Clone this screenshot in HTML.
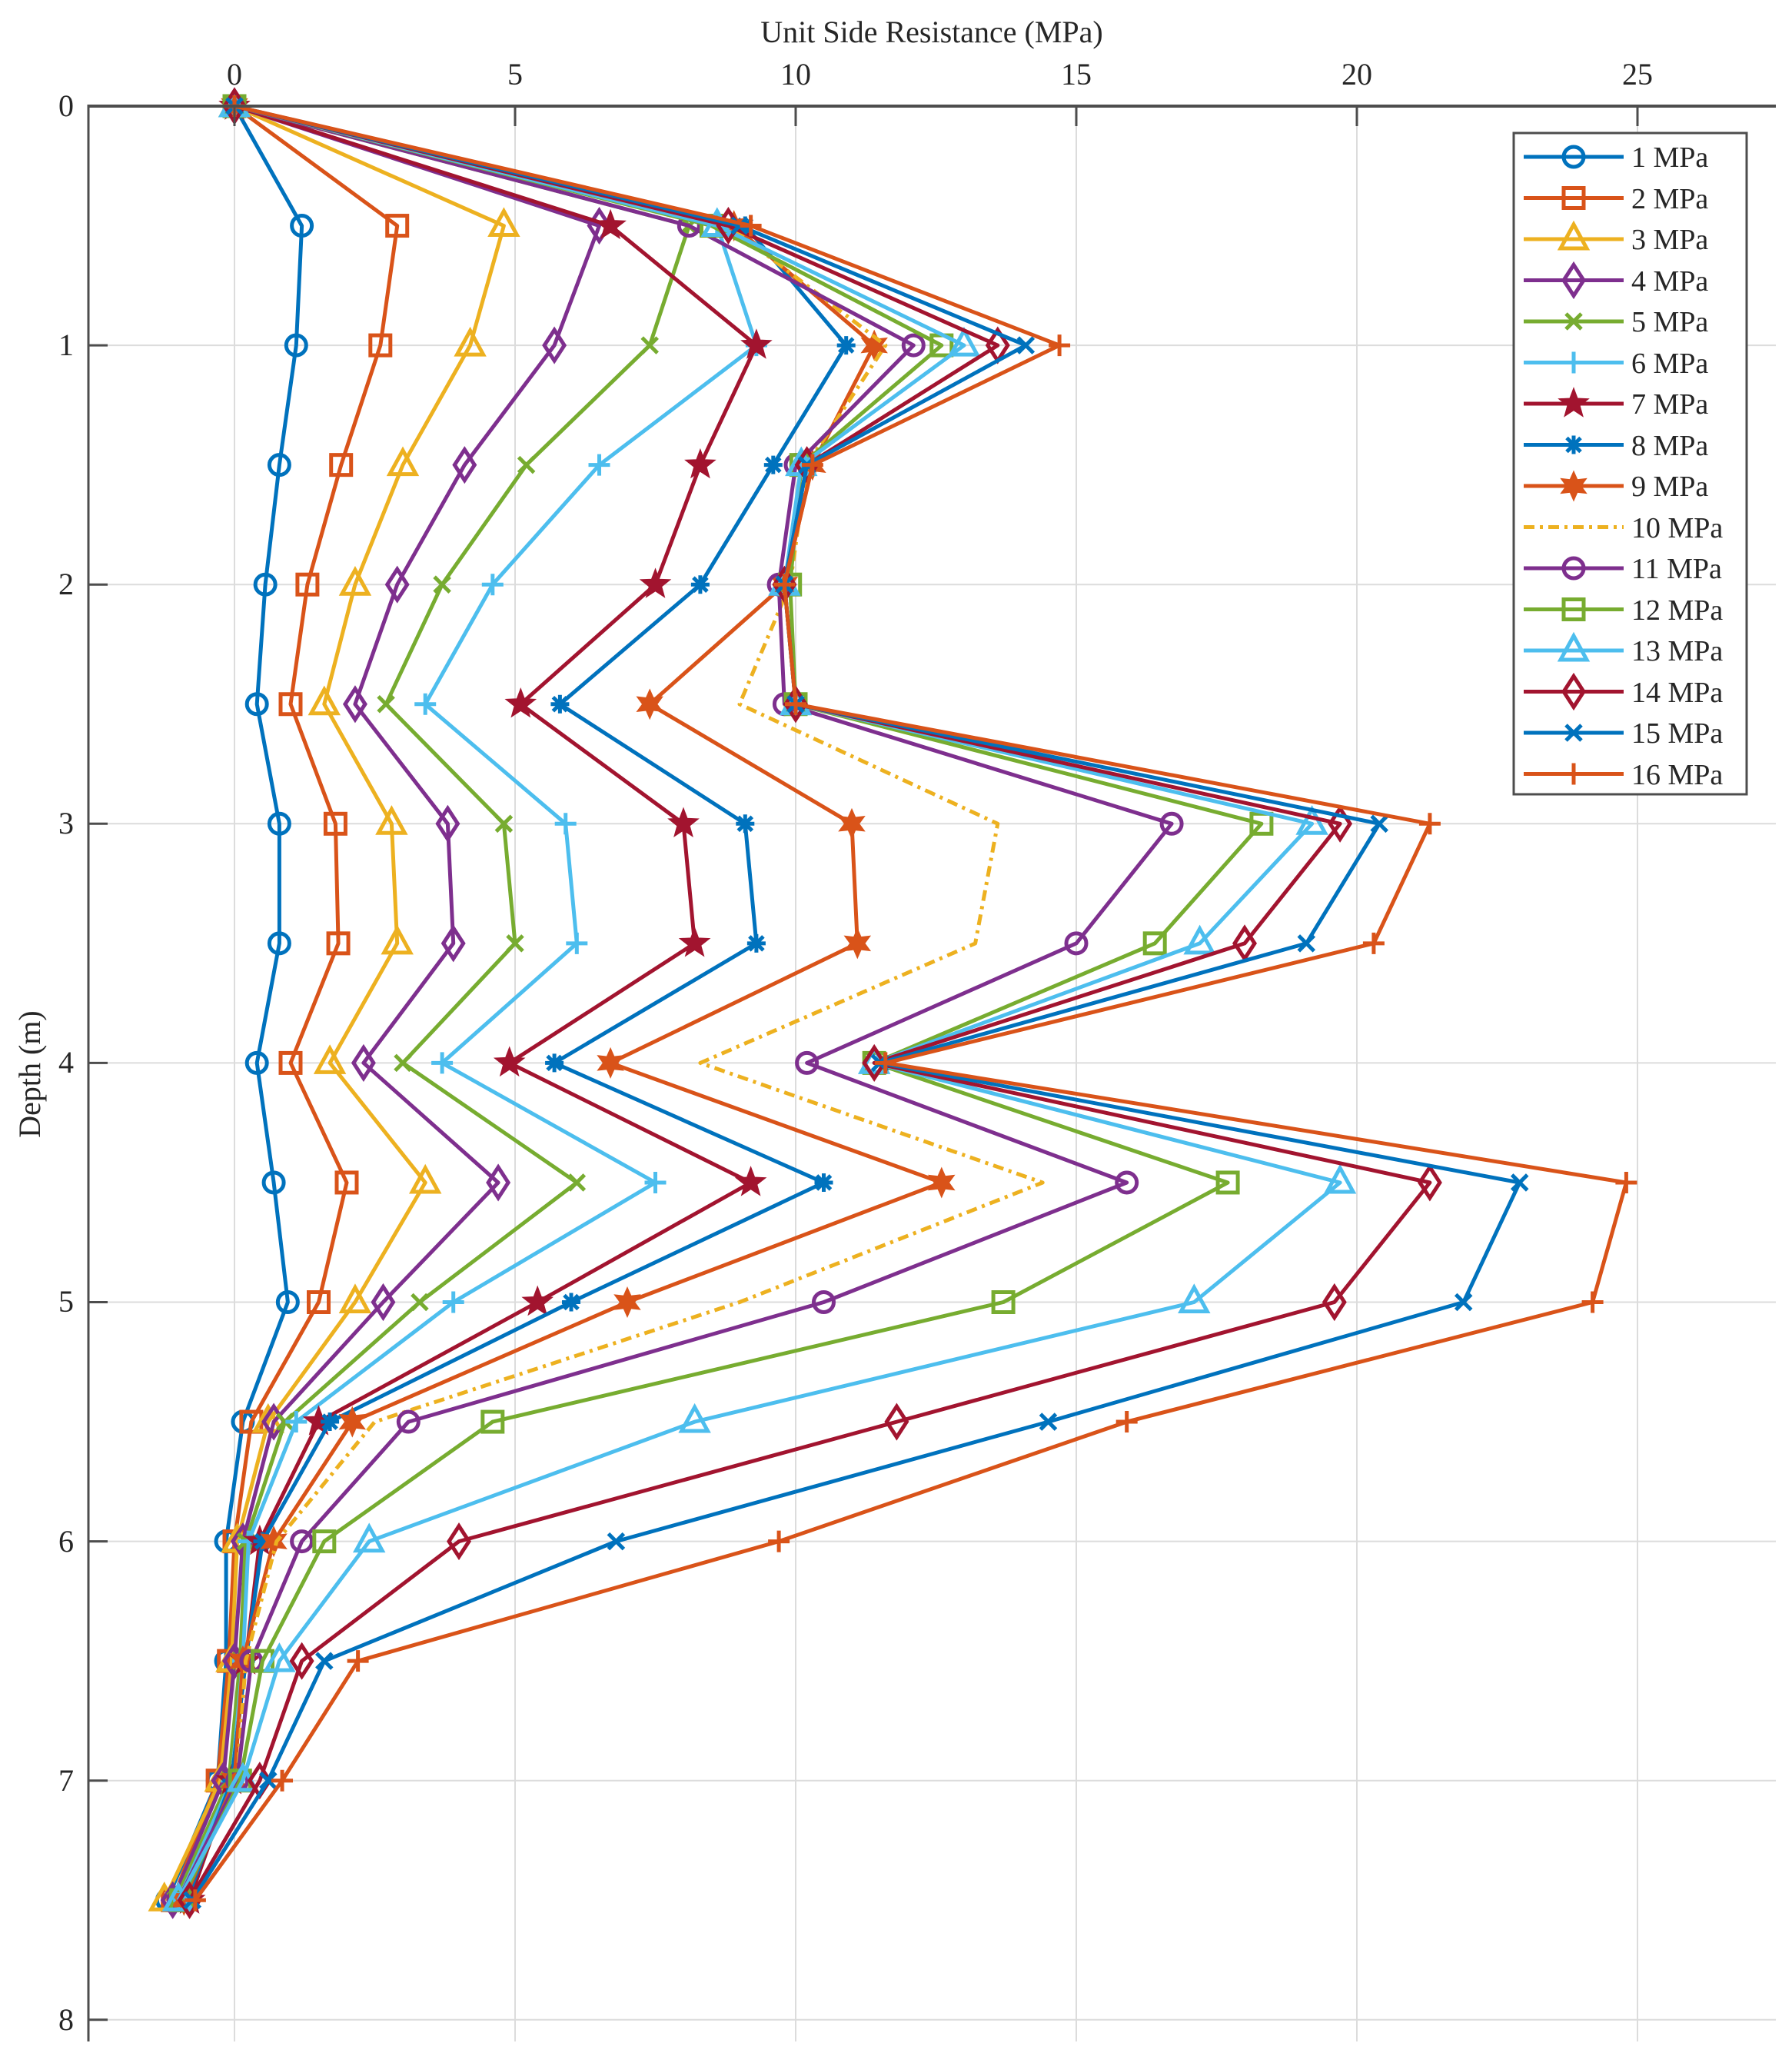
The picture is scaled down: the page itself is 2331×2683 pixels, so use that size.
<!DOCTYPE html>
<html><head><meta charset="utf-8"><style>
body{margin:0;background:#fff}
svg{display:block}
text{font-family:"Liberation Serif",serif;fill:#262626}
</style></head><body>
<svg id="s" width="2331" height="2683" viewBox="0 0 2331 2683" xmlns="http://www.w3.org/2000/svg">
<rect width="2331" height="2683" fill="#fff"/>
<g id="grid" stroke="#dcdcdc" stroke-width="2"></g>
<g id="series"></g>
<g id="axes"></g>
<text x="1212" y="55" font-size="40" text-anchor="middle" fill="#333">Unit Side Resistance (MPa)</text>
<text x="0" y="0" font-size="40" text-anchor="middle" transform="translate(52,1397) rotate(-90)" fill="#333">Depth (m)</text>
<g font-size="40" text-anchor="middle" fill="#333">
<text x="305" y="110">0</text><text x="670" y="110">5</text><text x="1035" y="110">10</text><text x="1400" y="110">15</text><text x="1765" y="110">20</text><text x="2130" y="110">25</text>
</g>
<g font-size="40" text-anchor="end" fill="#333">
<text x="96" y="151">0</text><text x="96" y="462">1</text><text x="96" y="773">2</text><text x="96" y="1084">3</text><text x="96" y="1395">4</text><text x="96" y="1706">5</text><text x="96" y="2018">6</text><text x="96" y="2329">7</text><text x="96" y="2640">8</text>
</g>
<rect x="1969" y="173" width="303" height="860" fill="#fff" stroke="#4d4d4d" stroke-width="3"/>
<g id="leg"></g>
<g font-size="38" fill="#1a1a1a">
<text x="2122" y="217">1 MPa</text><text x="2122" y="271">2 MPa</text><text x="2122" y="324">3 MPa</text><text x="2122" y="378">4 MPa</text><text x="2122" y="431">5 MPa</text><text x="2122" y="485">6 MPa</text><text x="2122" y="538">7 MPa</text><text x="2122" y="592">8 MPa</text><text x="2122" y="645">9 MPa</text><text x="2122" y="699">10 MPa</text><text x="2122" y="752">11 MPa</text><text x="2122" y="806">12 MPa</text><text x="2122" y="859">13 MPa</text><text x="2122" y="913">14 MPa</text><text x="2122" y="966">15 MPa</text><text x="2122" y="1020">16 MPa</text>
</g>
</svg>
<script>
var NS="http://www.w3.org/2000/svg";
function el(t,a,p){var e=document.createElementNS(NS,t);for(var k in a)e.setAttribute(k,a[k]);p.appendChild(e);return e;}
var X0=305,SX=73.0,Y0=138,SY=311.1,L=115,R=2310,T=138,B=2655;
function px(v){return X0+v*SX} function py(d){return Y0+d*SY}
var g=document.getElementById('grid'),ax=document.getElementById('axes');
for(var v=0;v<=25;v+=5)el('line',{x1:px(v),y1:T,x2:px(v),y2:B},g);
for(var d=0;d<=8;d++)el('line',{x1:L,y1:py(d),x2:R,y2:py(d)},g);
el('line',{x1:L,y1:T,x2:R,y2:T,stroke:'#4d4d4d','stroke-width':4},ax);
el('line',{x1:L,y1:T-2,x2:L,y2:B,stroke:'#4d4d4d','stroke-width':3},ax);
for(var v=0;v<=25;v+=5)el('line',{x1:px(v),y1:T,x2:px(v),y2:T+26,stroke:'#4d4d4d','stroke-width':3},ax);
for(var d=0;d<=8;d++)el('line',{x1:L,y1:py(d),x2:L+25,y2:py(d),stroke:'#4d4d4d','stroke-width':3},ax);
var C=['#0072BD','#D95319','#EDB120','#7E2F8E','#77AC30','#4DBEEE','#A2142F'];
var M=['o','s','^','d','x','+','p','*','h','n','o','s','^','d','x','+'];
var D=[
[0,1.2,1.1,0.8,0.55,0.4,0.8,0.8,0.4,0.7,0.95,0.15,-0.15,-0.15,-0.3,-1.2],
[0,2.9,2.6,1.9,1.3,1.0,1.8,1.85,1.0,2.0,1.5,0.3,0,-0.1,-0.3,-1.1],
[0,4.8,4.2,3.0,2.15,1.6,2.8,2.9,1.7,3.4,2.15,0.6,0.05,-0.05,-0.25,-1.25],
[0,6.5,5.7,4.1,2.9,2.15,3.8,3.9,2.3,4.7,2.65,0.7,0.15,0.0,-0.2,-1.1],
[0,8.1,7.4,5.2,3.7,2.7,4.8,5.0,3.0,6.1,3.3,0.9,0.2,0.1,-0.1,-1.05],
[0,8.6,9.3,6.5,4.6,3.4,5.9,6.1,3.7,7.5,3.9,1.1,0.25,0.15,-0.05,-1.0],
[0,6.7,9.3,8.3,7.5,5.1,8.0,8.2,4.9,9.2,5.4,1.5,0.45,0.2,-0.05,-0.8],
[0,9.1,10.9,9.6,8.3,5.8,9.1,9.3,5.7,10.5,6.0,1.7,0.5,0.2,-0.05,-0.85],
[0,8.9,11.4,10.3,9.8,7.4,11.0,11.1,6.7,12.6,7.0,2.1,0.7,0.15,0,-0.9],
[0,8.8,11.6,10.2,9.9,9.0,13.6,13.2,8.3,14.4,9.0,2.5,0.75,0.2,0.05,-0.95],
[0,8.1,12.1,10.0,9.7,9.8,16.7,15.0,10.2,15.9,10.5,3.1,1.2,0.3,0.05,-1.0],
[0,8.5,12.6,10.1,9.9,10.0,18.3,16.4,11.4,17.7,13.7,4.6,1.6,0.5,0.1,-0.95],
[0,8.6,13.0,10.1,9.8,10.0,19.2,17.2,11.4,19.7,17.1,8.2,2.4,0.8,0.15,-1.0],
[0,8.8,13.6,10.2,9.8,10.0,19.7,18.0,11.4,21.3,19.6,11.8,4.0,1.2,0.45,-0.8],
[0,9.0,14.1,10.2,9.8,10.0,20.4,19.1,11.5,22.9,21.9,14.5,6.8,1.6,0.6,-0.75],
[0,9.2,14.7,10.3,9.8,10.0,21.3,20.3,11.6,24.8,24.2,15.9,9.7,2.2,0.85,-0.7]];
function star(cx,cy,n,ro,ri){var p=[];for(var i=0;i<2*n;i++){var r=i%2?ri:ro,a=-Math.PI/2+i*Math.PI/n;p.push((cx+r*Math.cos(a)).toFixed(1)+','+(cy+r*Math.sin(a)).toFixed(1));}return p.join(' ');}
function mark(m,x,y,c,p){var s={stroke:c,'stroke-width':5,fill:'none'},r=13;
 if(m=='o'){s.cx=x;s.cy=y;s.r=r;el('circle',s,p);}
 else if(m=='s'){s.x=x-r;s.y=y-r;s.width=2*r;s.height=2*r;el('rect',s,p);}
 else if(m=='^'){s.points=x+','+(y-r-6)+' '+(x+r+4)+','+(y+r-1)+' '+(x-r-4)+','+(y+r-1);el('polygon',s,p);}
 else if(m=='d'){s.points=x+','+(y-r-7)+' '+(x+r)+','+y+' '+x+','+(y+r+7)+' '+(x-r)+','+y;el('polygon',s,p);}
 else if(m=='x'){s.d='M'+(x-10)+' '+(y-10)+'L'+(x+10)+' '+(y+10)+'M'+(x+10)+' '+(y-10)+'L'+(x-10)+' '+(y+10);el('path',s,p);}
 else if(m=='+'){s.d='M'+(x-14)+' '+y+'L'+(x+14)+' '+y+'M'+x+' '+(y-14)+'L'+x+' '+(y+14);el('path',s,p);}
 else if(m=='*'){s.d='M'+(x-12)+' '+y+'L'+(x+12)+' '+y+'M'+x+' '+(y-12)+'L'+x+' '+(y+12)+'M'+(x-9)+' '+(y-9)+'L'+(x+9)+' '+(y+9)+'M'+(x+9)+' '+(y-9)+'L'+(x-9)+' '+(y+9);el('path',s,p);}
 else if(m=='p'){s.points=star(x,y,5,19,8);s.fill=c;s['stroke-width']=2;el('polygon',s,p);}
 else if(m=='h'){s.points=star(x,y,6,18,9);s.fill=c;s['stroke-width']=2;el('polygon',s,p);}
}
var sg=document.getElementById('series'),lg=document.getElementById('leg');
D.forEach(function(a,i){var c=C[i%7],pts=a.map(function(v,j){return px(v).toFixed(1)+','+py(j*0.5).toFixed(1)}).join(' ');
 var at={points:pts,fill:'none',stroke:c,'stroke-width':5,'stroke-linejoin':'round'};
 if(M[i]=='n')at['stroke-dasharray']='14,7,4,7';
 el('polyline',at,sg);
 if(M[i]!='n')a.forEach(function(v,j){mark(M[i],px(v),py(j*0.5),c,sg)});
 var ly=204+i*53.5;var la={x1:1982,y1:ly,x2:2112,y2:ly,stroke:c,'stroke-width':5};
 if(M[i]=='n')la['stroke-dasharray']='14,7,4,7';
 el('line',la,lg); if(M[i]!='n')mark(M[i],2047,ly,c,lg);
});
</script>
</body></html>
